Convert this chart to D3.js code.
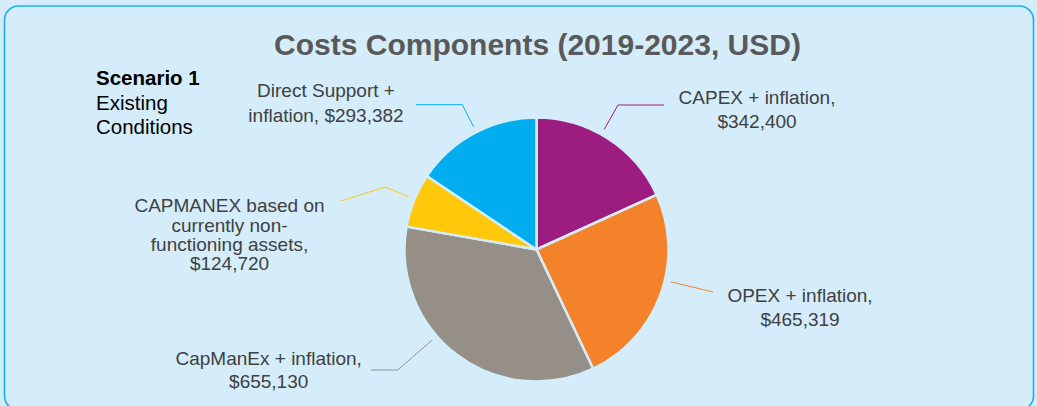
<!DOCTYPE html>
<html>
<head>
<meta charset="utf-8">
<script src="https://cdn.jsdelivr.net/npm/d3@7"></script>
<style>
  html, body { margin: 0; padding: 0; background: #d5edfa; }
  svg { display: block; font-family: Arial, "Liberation Sans", Helvetica, sans-serif; }
</style>
</head>
<body>
<svg id="chart" width="1037" height="406"></svg>
<script>
// Cost components, scenario 1 (existing conditions), 2019-2023, USD
const components = [
  "CAPEX + inflation",
  "OPEX + inflation",
  "CapManEx + inflation",
  "CAPMANEX based on currently non-functioning assets",
  "Direct Support + inflation"
];
const costs = [342400, 465319, 655130, 124720, 293382];
const sliceColors = ["#9c1c80", "#f4822b", "#968f88", "#ffc80b", "#00adee"];
// Label text lines drawn next to each slice (value appended from costs)
const labelLines = [
  ["CAPEX + inflation,"],
  ["OPEX + inflation,"],
  ["CapManEx + inflation,"],
  ["CAPMANEX based on", "currently non-", "functioning assets,"],
  ["Direct Support +", "inflation,"]
];

const fmt = v => "$" + d3.format(",")(v);

const W = 1037, H = 406;
const svg = d3.select("#chart");

// Panel
svg.append("rect")
  .attr("x", 4.5).attr("y", 6)
  .attr("width", 1029).attr("height", 404)
  .attr("rx", 14).attr("ry", 14)
  .attr("fill", "#d5edfa")
  .attr("stroke", "#1ab0ef")
  .attr("stroke-width", 1.6);

// Title
svg.append("text")
  .attr("x", 537.5).attr("y", 55)
  .attr("text-anchor", "middle")
  .attr("font-size", 30).attr("font-weight", "bold")
  .attr("fill", "#595959")
  .text("Costs Components (2019-2023, USD)");

// Scenario caption
const cap = svg.append("text").attr("x", 96).attr("y", 85)
  .attr("font-size", 20.5).attr("fill", "#000");
cap.append("tspan").attr("font-weight", "bold").text("Scenario 1");
cap.append("tspan").attr("x", 96).attr("dy", 25).text("Existing");
cap.append("tspan").attr("x", 96).attr("dy", 24).text("Conditions");

// Pie
const cx = 536.5, cy = 249.5, R = 132;
const pie = d3.pie().sort(null).value(d => d)(costs);
const arc = d3.arc().innerRadius(0).outerRadius(R);

const g = svg.append("g").attr("transform", `translate(${cx},${cy})`);
g.selectAll("path.slice")
  .data(pie)
  .join("path")
  .attr("class", "slice")
  .attr("d", arc)
  .attr("fill", (d, i) => sliceColors[i])
  .attr("stroke", "#d5edfa")
  .attr("stroke-width", 2.5)
  .attr("stroke-linejoin", "round");

// Label placement: text centre x, first baseline, line step, leader path (label end, elbow)
const labelLayout = [
  { x: 757, y: 104, step: 24, leader: [[664, 105], [618, 105]] },
  { x: 800, y: 302, step: 24, leader: [[713, 292]] },
  { x: 268.7, y: 364.5, step: 23, leader: [[371, 370], [397.7, 370]] },
  { x: 229.5, y: 212.3, step: 19.3, leader: [[341, 201], [385, 187]] },
  { x: 326, y: 97.3, step: 24.4, leader: [[416, 104.7], [462.3, 104.7]] }
];

// Leader lines run from the last layout point towards the pie centre, stopping just outside the rim
const rimR = R + 6;
labelLayout.forEach((L, i) => {
  const last = L.leader[L.leader.length - 1];
  const dx = cx - last[0], dy = cy - last[1];
  const dist = Math.hypot(dx, dy);
  const t = (dist - rimR) / dist;
  const start = [last[0] + dx * t, last[1] + dy * t];
  const pts = L.leader.concat([start]);
  svg.append("path")
    .attr("d", d3.line()(pts))
    .attr("fill", "none")
    .attr("stroke", sliceColors[i])
    .attr("stroke-width", 1);

  const lines = labelLines[i].slice();
  // value is appended either to the last line or on its own line
  if (i === 4) lines[lines.length - 1] += " " + fmt(costs[i]);
  else lines.push(fmt(costs[i]));

  const t0 = svg.append("text")
    .attr("text-anchor", "middle")
    .attr("font-size", 19)
    .attr("fill", "#404040");
  lines.forEach((s, k) => {
    t0.append("tspan").attr("x", L.x).attr("y", L.y + k * L.step).text(s);
  });
});
</script>
</body>
</html>
